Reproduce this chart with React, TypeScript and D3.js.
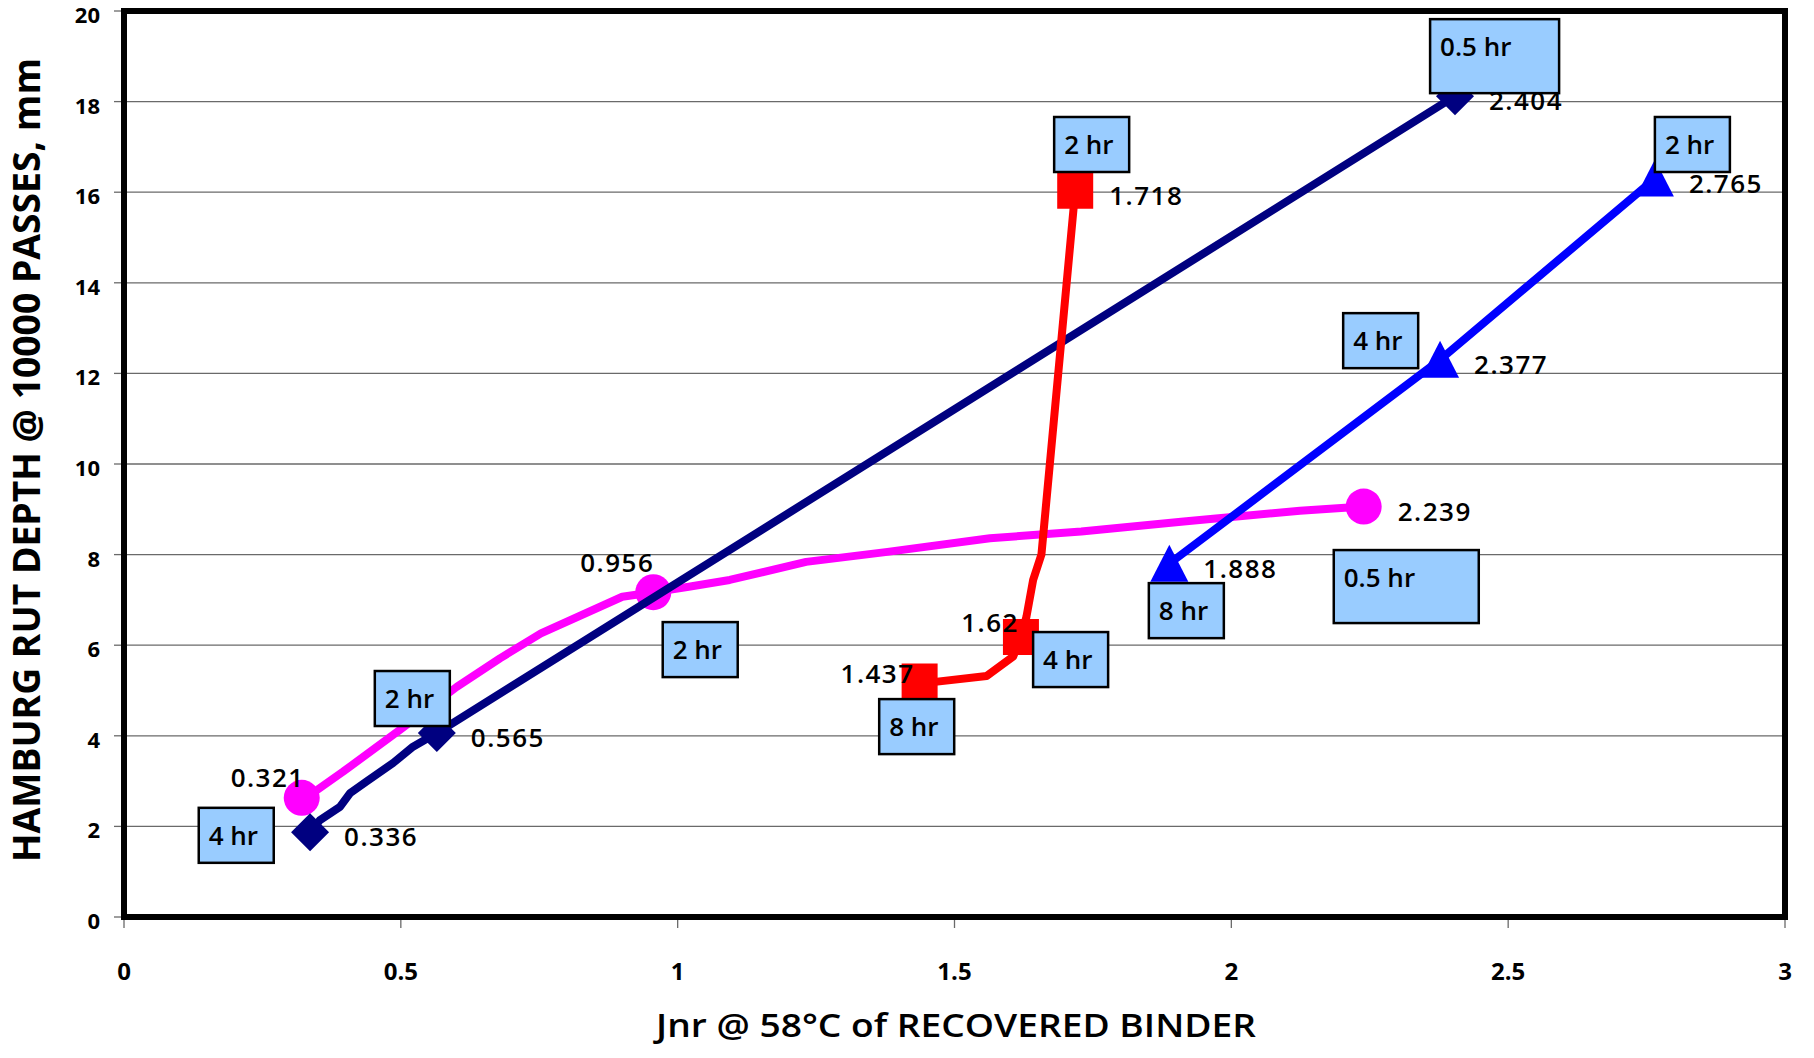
import React from "react";
import * as d3 from "d3";

// ---------- DATA ----------
const xTicks = [0, 0.5, 1, 1.5, 2, 2.5, 3];
const yTicks = [0, 2, 4, 6, 8, 10, 12, 14, 16, 18, 20];

// marker points (x = Jnr, y = rut depth)
const navyPoints: [number, number][] = [[0.336, 1.87], [0.565, 4.06], [2.404, 18.12]];
const pinkPoints: [number, number][] = [[0.321, 2.63], [0.956, 7.17], [2.239, 9.06]];
const redPoints: [number, number][] = [[1.437, 5.2], [1.62, 6.18], [1.718, 16.03]];
const bluePoints: [number, number][] = [[1.888, 7.8], [2.377, 12.3], [2.765, 16.3]];

// traced line vertices
const navyPath: [number, number][] = [
  [0.336, 1.87], [0.354, 2.14], [0.39, 2.43], [0.408, 2.73], [0.438, 2.99],
  [0.486, 3.4], [0.522, 3.76], [0.565, 4.06], [2.404, 18.12],
];
const pinkPath: [number, number][] = [
  [0.321, 2.63], [0.348, 2.8], [0.396, 3.21], [0.498, 4.13], [0.601, 5.08],
  [0.679, 5.71], [0.753, 6.26], [0.9, 7.07], [0.956, 7.17], [1.02, 7.29],
  [1.094, 7.44], [1.232, 7.84], [1.379, 8.06], [1.564, 8.36], [1.729, 8.51],
  [1.914, 8.73], [2.124, 8.97], [2.239, 9.06],
];
const redPath: [number, number][] = [
  [1.437, 5.2], [1.465, 5.19], [1.558, 5.32], [1.606, 5.75], [1.62, 6.18],
  [1.63, 6.63], [1.642, 7.44], [1.657, 8.0], [1.718, 16.03],
];
const bluePath: [number, number][] = [[1.888, 7.8], [2.377, 12.3], [2.765, 16.3]];

// data label placement per point: r = right, l = left, ul = upper-left
const navyLabelPos = ["r", "r", "r"];
const pinkLabelPos = ["ul", "ul2", "r"];
const redLabelPos = ["l", "l2", "r"];
const blueLabelPos = ["r", "r", "r"];

// annotation boxes: text and top-left corner in data units
const annoText = ["0.5 hr", "2 hr", "2 hr", "4 hr", "0.5 hr", "8 hr", "2 hr", "4 hr", "8 hr", "2 hr", "4 hr"];
const annoX = [2.359, 1.68, 2.765, 2.202, 2.185, 1.851, 0.973, 1.642, 1.364, 0.453, 0.135];
const annoY = [19.82, 17.66, 17.66, 13.33, 8.1, 7.37, 6.51, 6.29, 4.81, 5.43, 2.41];
const annoKind = ["wide1", "s", "s", "s", "wide2", "s", "s", "s", "s", "s", "s"];

const xTitle = "Jnr @ 58°C of RECOVERED BINDER";
const yTitle = "HAMBURG RUT DEPTH @ 10000 PASSES, mm";

// ---------- LAYOUT ----------
const W = 1814, H = 1058;
const L = 124, R = 1785, T = 11, B = 917;
const FONT = "'Open Sans', 'Noto Sans', sans-serif";

const boxSize: Record<string, [number, number]> = {
  s: [75, 55],
  wide1: [129, 74],
  wide2: [145, 73],
};

const labelOffset: Record<string, { dx: number; dy: number; anchor: string }> = {
  r: { dx: 34, dy: 14, anchor: "start" },
  l: { dx: -5, dy: 2, anchor: "end" },
  l2: { dx: -2, dy: -5, anchor: "end" },
  ul: { dx: 3, dy: -11, anchor: "end" },
  ul2: { dx: 1, dy: -20, anchor: "end" },
};

export default function App() {
  const x = d3.scaleLinear().domain([0, 3]).range([L, R]);
  const y = d3.scaleLinear().domain([0, 20]).range([B, T]);
  const line = d3.line<[number, number]>().x((d) => x(d[0])).y((d) => y(d[1]));

  const diamond = "M0,-19L19,0L0,19L-19,0Z";
  const square = "M-18,-18H18V18H-18Z";
  const triangle = "M0,-19L19,18L-19,18Z";

  const series = [
    { path: pinkPath, pts: pinkPoints, color: "#FF00FF", pos: pinkLabelPos, shape: "circle" },
    { path: navyPath, pts: navyPoints, color: "#000080", pos: navyLabelPos, shape: diamond },
    { path: redPath, pts: redPoints, color: "#FF0000", pos: redLabelPos, shape: square },
    { path: bluePath, pts: bluePoints, color: "#0000FF", pos: blueLabelPos, shape: triangle },
  ];

  return (
    <svg width={W} height={H} style={{ position: "absolute", left: 0, top: 0, background: "#fff" }} fontFamily={FONT}>
      <rect x={0} y={0} width={W} height={H} fill="#fff" />
      {/* gridlines */}
      {yTicks.filter((t) => t > 0 && t < 20).map((t) => (
        <line key={"g" + t} x1={L} x2={R} y1={y(t)} y2={y(t)} stroke="#6a6a6a" strokeWidth={1.3} />
      ))}
      {/* ticks */}
      {yTicks.map((t) => (
        <line key={"yt" + t} x1={L - 10} x2={L} y1={y(t)} y2={y(t)} stroke="#6a6a6a" strokeWidth={1.3} />
      ))}
      {xTicks.map((t) => (
        <line key={"xt" + t} x1={x(t)} x2={x(t)} y1={B} y2={B + 11} stroke="#6a6a6a" strokeWidth={1.3} />
      ))}
      {/* tick labels */}
      {yTicks.map((t) => (
        <text key={"yl" + t} x={100} y={y(t) + 12} textAnchor="end" fontSize={22} fontWeight={700} fill="#000">
          {String(t)}
        </text>
      ))}
      {xTicks.map((t) => (
        <text key={"xl" + t} x={x(t)} y={980} textAnchor="middle" fontSize={24} fontWeight={700} fill="#000">
          {String(t)}
        </text>
      ))}
      {/* series */}
      {series.map((s, i) => (
        <g key={"s" + i}>
          <path d={line(s.path) || ""} fill="none" stroke={s.color} strokeWidth={8} strokeLinejoin="round" />
          {s.pts.map((p, j) =>
            s.shape === "circle" ? (
              <circle key={j} cx={x(p[0])} cy={y(p[1])} r={18} fill={s.color} />
            ) : (
              <path key={j} d={s.shape} transform={`translate(${x(p[0])},${y(p[1])})`} fill={s.color} />
            )
          )}
        </g>
      ))}
      {/* data labels */}
      {series.map((s, i) =>
        s.pts.map((p, j) => {
          const o = labelOffset[s.pos[j]];
          return (
            <text
              key={`dl${i}-${j}`}
              x={x(p[0]) + o.dx}
              y={y(p[1]) + o.dy}
              textAnchor={o.anchor as any}
              fontSize={26}
              fontWeight={600}
              letterSpacing={1.5}
              fill="#000"
            >
              {String(p[0])}
            </text>
          );
        })
      )}
      {/* frame */}
      <rect x={L} y={T} width={R - L} height={B - T} fill="none" stroke="#000" strokeWidth={6} />
      {/* annotation boxes */}
      {annoText.map((t, i) => {
        const [bw, bh] = boxSize[annoKind[i]];
        const bx = x(annoX[i]);
        const by = y(annoY[i]);
        return (
          <g key={"a" + i}>
            <rect x={bx} y={by} width={bw} height={bh} fill="#99CCFF" stroke="#000" strokeWidth={2.5} />
            <text x={bx + 10} y={by + 37} fontSize={26} fontWeight={600} fill="#000">
              {t}
            </text>
          </g>
        );
      })}
      {/* axis titles */}
      <text x={956} y={1037} textAnchor="middle" fontSize={33} fontWeight={600} textLength={600} lengthAdjust="spacingAndGlyphs" fill="#000">
        {xTitle}
      </text>
      <text
        transform="translate(40,460) rotate(-90)"
        textAnchor="middle"
        fontSize={37}
        fontWeight={700}
        textLength={804}
        lengthAdjust="spacingAndGlyphs"
        fill="#000"
      >
        {yTitle}
      </text>
    </svg>
  );
}
